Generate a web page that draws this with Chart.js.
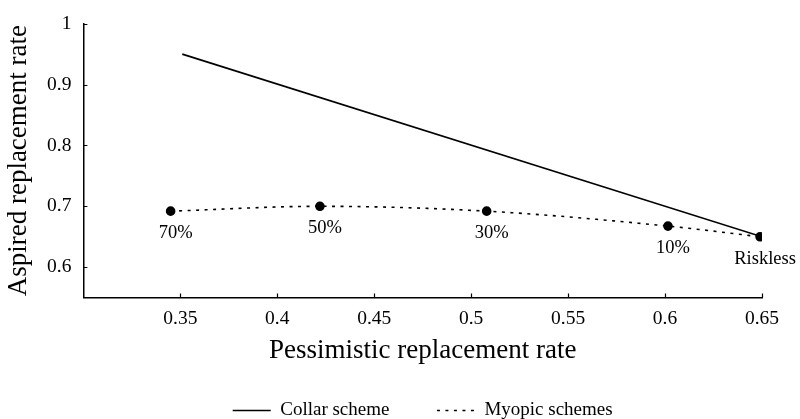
<!DOCTYPE html>
<html>
<head>
<meta charset="utf-8">
<script src="https://cdn.jsdelivr.net/npm/chart.js@4.4.1/dist/chart.umd.min.js"></script>
<style>
  html, body { margin: 0; padding: 0; background: #fff; }
  #wrap { width: 800px; height: 419px; }
</style>
</head>
<body>
<div id="wrap"><canvas id="myChart"></canvas></div>
<script>
// collar scheme: straight line
const collarX = [0.351, 0.65]
const collarY = [0.95, 0.65]

// myopic schemes: points labelled by share
const myopicX = [0.345, 0.422, 0.508, 0.6015, 0.649]
const myopicY = [0.692, 0.700, 0.692, 0.6675, 0.650]
const myopicLabels = ['70%', '50%', '30%', '10%', 'Riskless']

const xTicks = [0.35, 0.4, 0.45, 0.5, 0.55, 0.6, 0.65]
const yTicks = [0.6, 0.7, 0.8, 0.9, 1]

const serif = "'Liberation Serif', 'DejaVu Serif', serif"

const ctx = document.getElementById("myChart")

// labels under myopic points
const pointLabels = {
  id: 'pointLabels',
  afterDatasetsDraw(chart) {
    const x = chart.scales.x, y = chart.scales.y
    const c = chart.ctx
    c.save()
    c.font = '18.5px ' + serif
    c.fillStyle = '#000'
    c.textAlign = 'center'
    c.textBaseline = 'middle'
    myopicLabels.forEach(function (lab, i) {
      c.fillText(lab, x.getPixelForValue(myopicX[i]) + 5, y.getPixelForValue(myopicY[i]) + 22)
    })
    c.restore()
  }
}

// small inward tick marks
const innerTicks = {
  id: 'innerTicks',
  afterDraw(chart) {
    const x = chart.scales.x, y = chart.scales.y
    const a = chart.chartArea
    const c = chart.ctx
    c.save()
    c.strokeStyle = '#000'
    c.lineWidth = 1.2
    c.beginPath()
    xTicks.forEach(function (v) {
      const px = Math.round(x.getPixelForValue(v)) + 0.5
      c.moveTo(px, a.bottom)
      c.lineTo(px, a.bottom - 4)
    })
    yTicks.forEach(function (v) {
      const py = Math.round(y.getPixelForValue(v)) + 0.5
      c.moveTo(a.left, py)
      c.lineTo(a.left + 4, py)
    })
    c.stroke()
    c.restore()
  }
}

const data = {
  datasets: [{
    label: 'Collar scheme',
    data: collarX.map(function (v, i) { return { x: v, y: collarY[i] } }),
    borderColor: '#000',
    backgroundColor: '#000',
    borderWidth: 1.6,
    pointRadius: 0
  }, {
    label: 'Myopic schemes',
    data: myopicX.map(function (v, i) { return { x: v, y: myopicY[i] } }),
    borderColor: '#000',
    backgroundColor: '#000',
    borderWidth: 1.6,
    borderDash: [3, 5.5],
    tension: 0.4,
    cubicInterpolationMode: 'monotone',
    pointRadius: 4,
    pointBackgroundColor: '#000'
  }]
}

const config = {
  type: 'line',
  data: data,
  options: {
    responsive: true,
    maintainAspectRatio: false,
    animation: false,
    layout: { padding: { left: 5, right: 38, top: 12, bottom: -11 } },
    plugins: {
      tooltip: { enabled: false },
      legend: {
        position: 'bottom',
        fullSize: false,
        labels: {
          color: '#000',
          font: { family: serif, size: 19 },
          usePointStyle: true,
          pointStyleWidth: 38,
          padding: 0,
          generateLabels: function (chart) {
            const items = Chart.defaults.plugins.legend.labels.generateLabels(chart)
            items.forEach(function (it, i) {
              it.pointStyle = 'line'
              it.lineWidth = 1.6
              it.lineDash = chart.data.datasets[it.datasetIndex].borderDash || []
              // gap between legend entries
              if (i === 0) it.text = it.text + '\u2003\u2003\u2002'
            })
            return items
          }
        }
      }
    },
    scales: {
      x: {
        type: 'linear',
        min: 0.3,
        max: 0.65,
        border: { color: '#000', width: 1.5 },
        grid: { display: false, drawTicks: false },
        afterBuildTicks: function (s) { s.ticks = xTicks.map(function (v) { return { value: v } }) },
        ticks: {
          color: '#000',
          padding: 10,
          font: { family: serif, size: 19.5 },
          callback: function (v) { return String(v) }
        },
        title: {
          display: true,
          text: 'Pessimistic replacement rate',
          color: '#000',
          font: { family: serif, size: 27, lineHeight: 1 },
          padding: { top: -4, bottom: 37 }
        }
      },
      y: {
        type: 'linear',
        min: 0.55,
        max: 1,
        border: { color: '#000', width: 1.5 },
        grid: { display: false, drawTicks: false },
        afterBuildTicks: function (s) { s.ticks = yTicks.map(function (v) { return { value: v } }) },
        ticks: {
          color: '#000',
          padding: 12,
          font: { family: serif, size: 19.5 },
          callback: function (v) { return String(v) }
        },
        title: {
          display: true,
          text: 'Aspired replacement rate',
          color: '#000',
          font: { family: serif, size: 27, lineHeight: 1 },
          padding: { top: 0, bottom: 3 }
        }
      }
    }
  },
  plugins: [pointLabels, innerTicks]
}

const myChart = new Chart(ctx, config)
</script>
</body>
</html>
